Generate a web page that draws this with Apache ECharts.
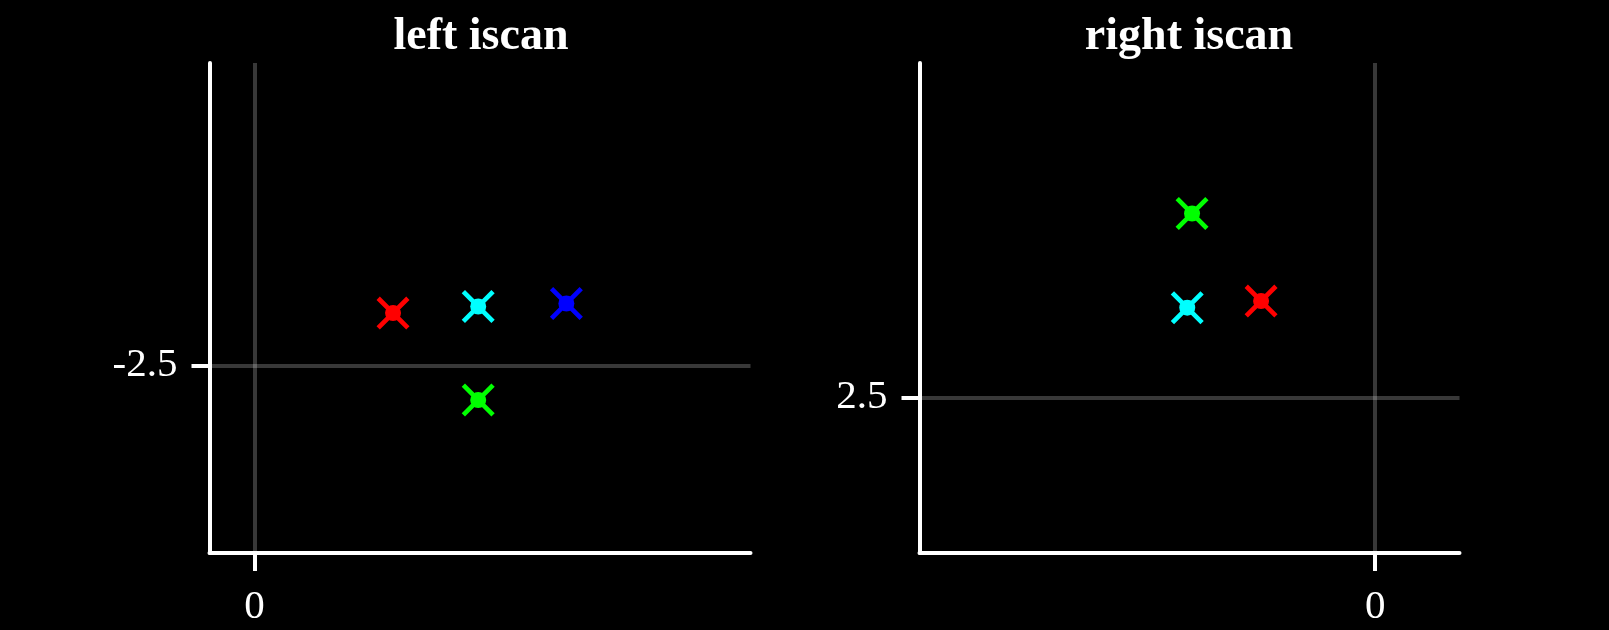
<!DOCTYPE html>
<html>
<head>
<meta charset="utf-8">
<script src="https://cdn.jsdelivr.net/npm/echarts@6/dist/echarts.min.js"></script>
<style>
  html, body { margin: 0; padding: 0; background: #000; }
  #chart { width: 1609px; height: 630px; }
</style>
</head>
<body>
<div id="chart"></div>
<script>
// panel titles
const titles = ['left iscan', 'right iscan']

// left panel points (x, y)
const leftX = [2.31, 3.73, 5.20, 3.73]
const leftY = [-1.63, -1.52, -1.47, -3.08]
const leftColors = ['#ff0000', '#00ffff', '#0000ff', '#00ff00']

// right panel points (x, y)
const rightX = [-3.05, -3.13, -1.90]
const rightY = [5.57, 4.00, 4.11]
const rightColors = ['#00ff00', '#00ffff', '#ff0000']

// tick values
const leftXTicks = [0]
const leftYTicks = [-2.5]
const rightXTicks = [0]
const rightYTicks = [2.5]

// axis ranges
const leftXRange = [-0.75, 8.27]
const leftYRange = [-5.63, 2.54]
const rightXRange = [-7.59, 1.405]
const rightYRange = [-0.09, 8.08]

const FONT = '"Liberation Serif", "Times New Roman", serif'
const X_PATH = 'path://M0,3.2L3.2,0L32,28.8L28.8,32Z M28.8,0L32,3.2L3.2,32L0,28.8Z'

function points(xs, ys, colors) {
  return xs.map((x, i) => ({ value: [x, ys[i]], itemStyle: { color: colors[i], opacity: 1 } }))
}

function makeAxis(gridIndex, range, ticks, isX) {
  return {
    type: 'value',
    gridIndex: gridIndex,
    min: range[0],
    max: range[1],
    axisLine: { show: true, onZero: false, lineStyle: { color: '#fff', width: 4 } },
    axisTick: { show: true, length: 18, customValues: ticks, lineStyle: { color: '#fff', width: 4 } },
    axisLabel: {
      customValues: ticks,
      color: '#fff',
      fontFamily: FONT,
      fontSize: 41,
      margin: isX ? 34 : 32
    },
    splitLine: { show: true, lineStyle: { color: 'rgba(255,255,255,0.22)', width: 4 } }
  }
}

function scatterPair(idx, xs, ys, colors) {
  const data = points(xs, ys, colors)
  return [
    {
      type: 'scatter',
      xAxisIndex: idx,
      yAxisIndex: idx,
      symbol: X_PATH,
      symbolSize: 33,
      itemStyle: { opacity: 1 },
      data: data,
      z: 3
    },
    {
      type: 'scatter',
      xAxisIndex: idx,
      yAxisIndex: idx,
      symbol: 'circle',
      symbolSize: 16,
      itemStyle: { opacity: 1 },
      data: data,
      z: 4
    }
  ]
}

const chart = echarts.init(document.getElementById('chart'))
chart.setOption({
  backgroundColor: '#000',
  animation: false,
  title: [
    {
      text: titles[0], left: 476, top: 9, textAlign: 'center',
      textStyle: { color: '#fff', fontFamily: FONT, fontWeight: 'bold', fontSize: 46 }
    },
    {
      text: titles[1], left: 1184, top: 9, textAlign: 'center',
      textStyle: { color: '#fff', fontFamily: FONT, fontWeight: 'bold', fontSize: 46 }
    }
  ],
  grid: [
    { left: 209.5, top: 63, width: 541, height: 490 },
    { left: 919.5, top: 63, width: 540, height: 490 }
  ],
  xAxis: [
    makeAxis(0, leftXRange, leftXTicks, true),
    makeAxis(1, rightXRange, rightXTicks, true)
  ],
  yAxis: [
    makeAxis(0, leftYRange, leftYTicks, false),
    makeAxis(1, rightYRange, rightYTicks, false)
  ],
  series: [
    ...scatterPair(0, leftX, leftY, leftColors),
    ...scatterPair(1, rightX, rightY, rightColors)
  ]
})
</script>
</body>
</html>
